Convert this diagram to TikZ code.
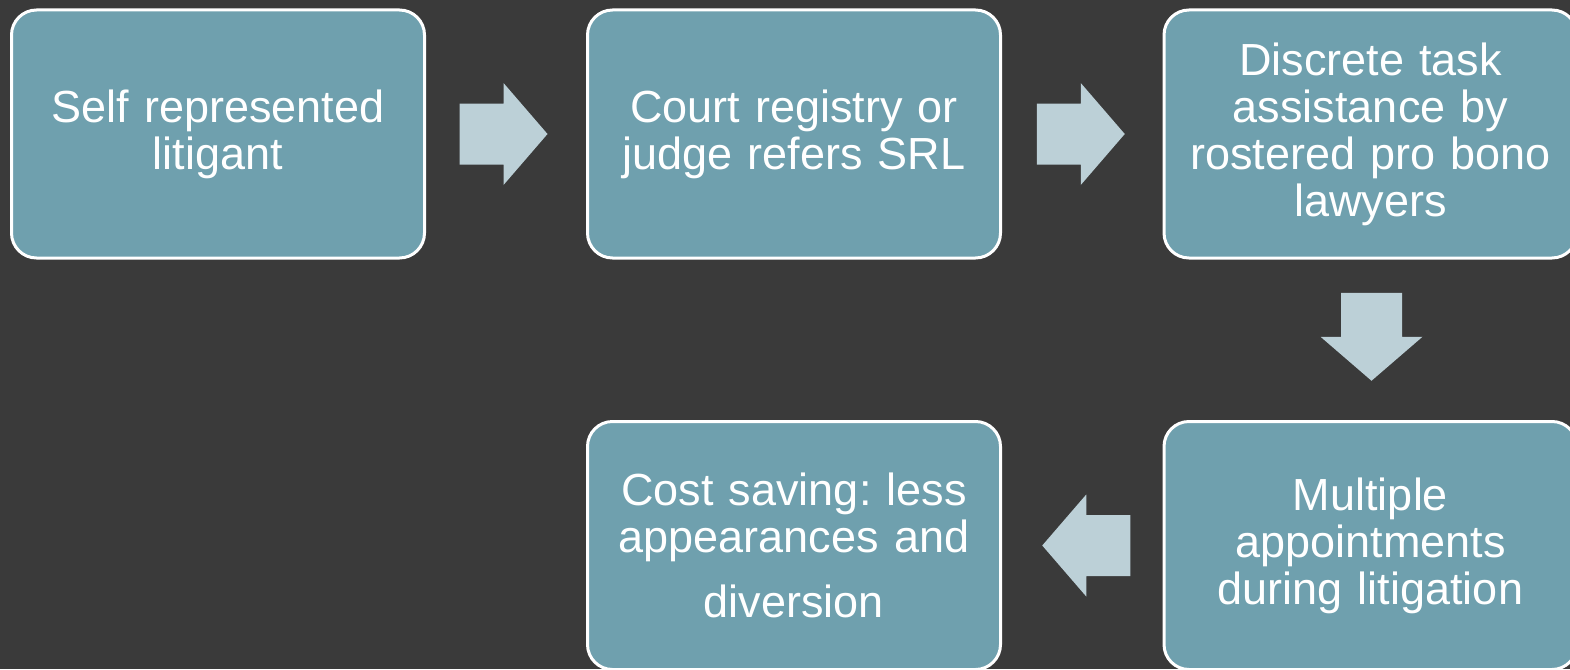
\documentclass[tikz,border=0pt]{standalone}
\usepackage{fontspec}
\setmainfont{Liberation Sans}
\usetikzlibrary{calc}
\definecolor{bgc}{HTML}{3A3A3A}
\definecolor{boxc}{HTML}{6FA0AE}
\definecolor{arrc}{HTML}{BCD0D7}
\frenchspacing
\tikzset{
  stepbox/.style={rectangle, rounded corners=25pt, draw=white, line width=3pt,
    fill=boxc, minimum width=413pt, minimum height=248pt, text width=390pt,
    align=center, text=white, inner sep=0pt,
    font=\fontsize{45}{47}\selectfont\frenchspacing},
  barrow/.pic={\fill[arrc] (-44,-30.5) -- (0,-30.5) -- (0,-51) -- (44,0) -- (0,51) -- (0,30.5) -- (-44,30.5) -- cycle;}
}
\begin{document}
\begin{tikzpicture}[x=1pt,y=-1pt]
\fill[bgc] (0,0) rectangle (1570,669);
\useasboundingbox (0,0) rectangle (1570,669);
\clip (0,0) rectangle (1570,669);
\node[stepbox] (b1) at (218,134) {Self represented\\litigant};
\node[stepbox] (b2) at (794,134) {Court registry or\\judge refers SRL};
\node[stepbox] (b3) at (1370.5,134) {Discrete task\\assistance by\\rostered pro bono\\lawyers};
\node[stepbox] (b5) at (1370.5,545.5) {Multiple\\appointments\\during litigation};
\node[stepbox] (b4) at (794,545.5) {Cost saving: less\\appearances and\\[18pt]diversion};
\pic at ($(b1.east)!0.5!(b2.west)+(-2.5,0)$) {barrow};
\pic at ($(b2.east)!0.5!(b3.west)+(-1.5,0)$) {barrow};
\pic[rotate=-90] at ($(b3.south)!0.5!(b5.north)+(1,-3)$) {barrow};
\pic[rotate=180] at ($(b5.west)!0.5!(b4.east)+(4,0)$) {barrow};
\end{tikzpicture}
\end{document}
